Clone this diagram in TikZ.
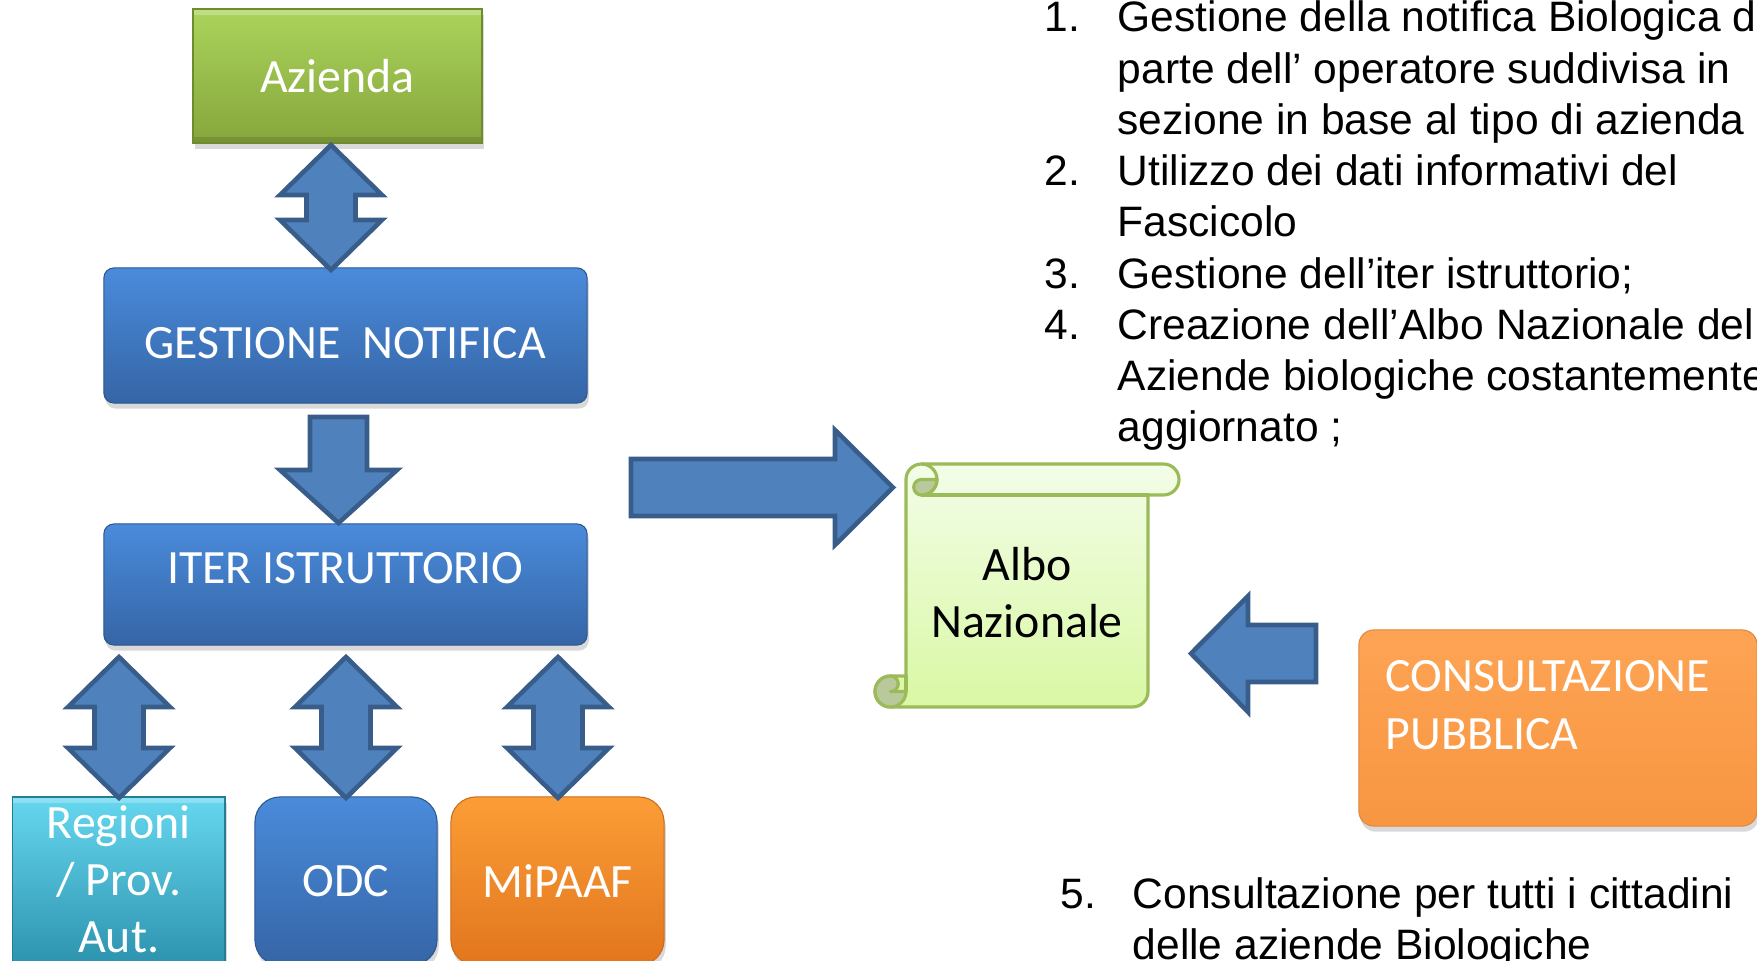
\documentclass[tikz,border=0pt]{standalone}
\usepackage{fontspec}
\setmainfont{Carlito}
\newfontfamily\listfont{Liberation Sans}
\usepackage{tikz}
\usetikzlibrary{shadows}
\definecolor{arrowfill}{HTML}{4F81BD}
\definecolor{arrowline}{HTML}{385D8A}
\definecolor{blueTop}{HTML}{4A8BDB}
\definecolor{blueBot}{HTML}{3565A6}
\definecolor{greenTop}{HTML}{ABD45C}
\definecolor{greenBot}{HTML}{86A63C}
\definecolor{greenLine}{HTML}{6E8B2D}
\definecolor{cyanTop}{HTML}{66D7EF}
\definecolor{cyanBot}{HTML}{2C92AE}
\definecolor{orangeTop}{HTML}{FB9D36}
\definecolor{orangeBot}{HTML}{E2761E}
\definecolor{consTop}{HTML}{FDA454}
\definecolor{consBot}{HTML}{F89642}
\definecolor{scrollTop}{HTML}{F3FDE8}
\definecolor{scrollBot}{HTML}{D9F8A4}
\definecolor{scrollLine}{HTML}{9BBB59}
\definecolor{curlFill}{HTML}{B9C99C}
\tikzset{
  boxtext/.style={inner sep=0pt, text=white, font=\fontsize{13.6}{16.2}\selectfont, align=center},
  box/.style={rectangle, boxtext, drop shadow={opacity=0.3, shadow xshift=0.5pt, shadow yshift=-1.6pt}},
  bevel/.style={path picture={
    \fill[white, opacity=0.25] (path picture bounding box.north west) rectangle ([yshift=-1.6pt]path picture bounding box.north east);
    \fill[black, opacity=0.12] (path picture bounding box.south west) rectangle ([yshift=1.6pt]path picture bounding box.south east);}},
  bluebox/.style={box, rounded corners=0.1cm, top color=blueTop, bottom color=blueBot, draw=blueBot!85!black, line width=0.3pt},
  greenbox/.style={box, bevel, top color=greenTop, bottom color=greenBot, draw=greenLine, line width=0.6pt},
  cyanbox/.style={box, bevel, top color=cyanTop, bottom color=cyanBot, draw=cyanBot!85!black, line width=0.4pt},
  orangebox/.style={box, rounded corners=0.25cm, top color=orangeTop, bottom color=orangeBot, draw=orangeBot!90!black, line width=0.3pt},
  consbox/.style={box, rounded corners=0.15cm, top color=consTop, bottom color=consBot, draw=consBot!90!black, line width=0.3pt},
  blockarrow/.style={fill=arrowfill, draw=arrowline, line width=1.3pt, line join=miter},
  scroll/.style={draw=scrollLine, line width=0.9pt, line join=round},
  listtext/.style={inner sep=0pt, anchor=base west, font=\listfont\fontsize{12.1}{14.6}\selectfont},
  updown/.pic={
    \draw[blockarrow] (0,0) -- (51,50) -- (24.5,50) -- (24.5,#1-50) -- (51,#1-50) -- (0,#1)
      -- (-51,#1-50) -- (-24.5,#1-50) -- (-24.5,50) -- (-51,50) -- cycle;
  }
}
\begin{document}
\begin{tikzpicture}[x=0.01cm,y=-0.01cm,line cap=round]
\useasboundingbox (0,0) rectangle (1757,961);
\clip (0,0) rectangle (1757,961);

\node[greenbox, minimum width=2.89cm, minimum height=1.34cm] (azienda) at (337.5,76) {Azienda};
\node[bluebox, minimum width=4.83cm, minimum height=1.35cm] (gestione) at (345.5,335.5) {};
\node[boxtext] (gestionetxt) at (345.5,343) {GESTIONE~~NOTIFICA};
\node[bluebox, minimum width=4.83cm, minimum height=1.21cm] (iter) at (345.5,584.5) {};
\node[boxtext] (itertxt) at (345.5,568) {ITER ISTRUTTORIO};
\node[cyanbox, minimum width=2.125cm, minimum height=1.7cm] (regioni) at (118.75,882) {};
\node[boxtext] (regionitxt) at (118.75,879) {Regioni\\/ Prov.\\Aut.};
\node[bluebox, rounded corners=0.25cm, minimum width=1.82cm, minimum height=1.68cm] (odc) at (346,881) {ODC};
\node[orangebox, minimum width=2.13cm, minimum height=1.68cm] (mipaaf) at (557.5,881) {MiPAAF};
\node[consbox, minimum width=3.98cm, minimum height=1.96cm] (cons) at (1558,728) {};
\node[boxtext, font=\fontsize{13.6}{16.5}\selectfont, align=left, anchor=north west] (constxt) at (1385,660) {CONSULTAZIONE\\PUBBLICA};

\pic at (331,145) {updown=125};
\pic at (119,657) {updown=141};
\pic at (346,657) {updown=141};
\pic at (558,657) {updown=141};
\draw[blockarrow] (310,417) -- (367,417) -- (367,470) -- (397,470) -- (338.5,523) -- (280,470) -- (310,470) -- cycle;
\draw[blockarrow] (631,459) -- (835,459) -- (835,430) -- (893,487.5) -- (835,545) -- (835,516) -- (631,516) -- cycle;
\draw[blockarrow] (1316,625) -- (1248,625) -- (1248,596) -- (1191,653.5) -- (1248,712) -- (1248,682) -- (1316,682) -- cycle;

\draw[scroll, top color=scrollTop, bottom color=scrollBot] (921.5,464) -- (1163.5,464) arc[start angle=-90,end angle=90,radius=15.5]
  -- (1148,495) -- (1148,691.5) arc[start angle=0,end angle=90,radius=15.5] -- (890.5,707)
  arc[start angle=90,end angle=270,radius=15.5] -- (906,676) -- (906,479.5) arc[start angle=180,end angle=270,radius=15.5] -- cycle;
\draw[scroll] (921.5,495) -- (1148,495);
\draw[scroll] (921.5,464) arc[start angle=-90,end angle=90,radius=15.5];
\draw[scroll, fill=curlFill] (921.5,479.5) -- (937,479.5) arc[start angle=0,end angle=90,radius=15.5] arc[start angle=90,end angle=270,radius=7.75] -- cycle;
\draw[scroll, fill=curlFill] (890.5,676) arc[start angle=270,end angle=0,radius=15.5] -- (890.5,691.5) arc[start angle=90,end angle=-90,radius=7.75] -- cycle;
\draw[scroll] (906,676) -- (906,691.5);
\node[boxtext, text=black, anchor=north] (albo) at (1027,547) {Albo\\Nazionale};

\node[listtext] (n1) at (1044,32) {1.};
\node[listtext] (l1) at (1117,32) {Gestione della notifica Biologica d};
\node[listtext] (l2) at (1117,83.25) {parte dell’ operatore suddivisa in};
\node[listtext] (l3) at (1117,134.5) {sezione in base al tipo di azienda};
\node[listtext] (n2) at (1044,185.75) {2.};
\node[listtext] (l4) at (1117,185.75) {Utilizzo dei dati informativi del};
\node[listtext] (l5) at (1117,237) {Fascicolo};
\node[listtext] (n3) at (1044,288.25) {3.};
\node[listtext] (l6) at (1117,288.25) {Gestione dell’iter istruttorio;};
\node[listtext] (n4) at (1044,339.5) {4.};
\node[listtext] (l7) at (1117,339.5) {Creazione dell’Albo Nazionale del};
\node[listtext] (l8) at (1117,390.75) {Aziende biologiche costantemente};
\node[listtext] (l9) at (1117,442) {aggiornato ;};
\node[listtext] (n5) at (1060,908) {5.};
\node[listtext] (l10) at (1132,908) {Consultazione per tutti i cittadini};
\node[listtext] (l11) at (1132,959) {delle aziende Biologiche};
\end{tikzpicture}
\end{document}
